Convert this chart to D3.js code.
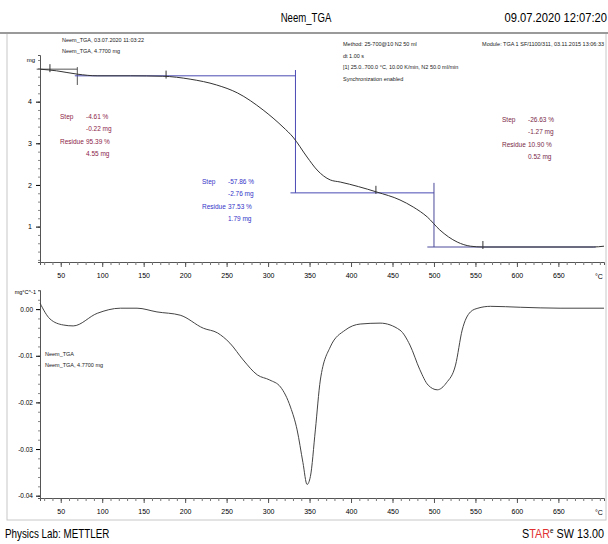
<!DOCTYPE html>
<html>
<head>
<meta charset="utf-8">
<script src="https://cdn.jsdelivr.net/npm/d3@7"></script>
<style>
  body { margin: 0; background: #fff; }
  svg { font-family: "Liberation Sans Narrow", "Arial Narrow", "Liberation Sans", Arial, sans-serif; }
</style>
</head>
<body>
<svg id="chart" width="608" height="544"></svg>
<script>
// temperature axis (°C)
const tempTicks = [50, 100, 150, 200, 250, 300, 350, 400, 450, 500, 550, 600, 650];
const tgaTicks = [1, 2, 3, 4];
const dtgTicks = [0, -0.01, -0.02, -0.03, -0.04];
const dtgTickLabels = ["0.00", "-0.01", "-0.02", "-0.03", "-0.04"];

// TGA curve: mass (mg) vs temperature
const tgaTemp = [25, 45, 70, 94, 134, 173, 206, 238, 263, 294, 318, 330, 347, 359, 375, 387, 431, 459, 475, 492, 507, 528, 544, 559, 692, 705];
const tgaMass = [4.78, 4.74, 4.66, 4.62, 4.62, 4.61, 4.54, 4.40, 4.21, 3.80, 3.39, 3.15, 2.67, 2.36, 2.12, 2.07, 1.83, 1.64, 1.47, 1.23, 0.92, 0.63, 0.53, 0.51, 0.51, 0.53];

// DTG curve: mg/°C vs temperature
const dtgTemp = [25, 37, 53, 65, 94, 122, 142, 166, 194, 222, 239, 254, 270, 287, 302, 315, 327, 335, 342, 347, 351, 357, 363, 375, 393, 411, 435, 459, 471, 483, 493, 504, 515, 526, 534, 544, 553, 568, 604, 652, 705];
const dtgRate = [0.0013, -0.0021, -0.0034, -0.0036, -0.0009, 0.0002, 0.0002, -0.0006, -0.0013, -0.0041, -0.0051, -0.0073, -0.0109, -0.0141, -0.0152, -0.0167, -0.0210, -0.0259, -0.0329, -0.0376, -0.0359, -0.0259, -0.0152, -0.0081, -0.0045, -0.0032, -0.0030, -0.0045, -0.0077, -0.0130, -0.0163, -0.0173, -0.0158, -0.0120, -0.0045, -0.0006, 0.0002, 0.0006, 0.0004, 0.0002, 0.0002];

// step evaluation construction lines [T1, m1, T2, m2]
const step1Lines = [[21, 4.78, 70, 4.78], [70, 4.83, 70, 4.40]];
const step2Lines = [[67, 4.62, 333, 4.62], [333, 4.76, 333, 1.81], [327, 1.81, 500, 1.81]];
const step3Lines = [[500, 2.05, 500, 0.51], [492, 0.51, 695, 0.51]];
const stepLimits = [37, 177, 430, 559];

const step1Text = [["Step", "-4.61 %"], ["", "-0.22 mg"], ["Residue", "95.39 %"], ["", "4.55 mg"]];
const step2Text = [["Step", "-57.86 %"], ["", "-2.76 mg"], ["Residue", "37.53 %"], ["", "1.79 mg"]];
const step3Text = [["Step", "-26.63 %"], ["", "-1.27 mg"], ["Residue", "10.90 %"], ["", "0.52 mg"]];

const infoLeft = ["Neem_TGA, 03.07.2020 11:03:22", "Neem_TGA, 4.7700 mg"];
const infoMethod = ["Method: 25-700@10 N2 50 ml", "dt 1.00 s", "[1] 25.0..700.0 °C, 10.00 K/min, N2 50.0 ml/min", "Synchronization enabled"];
const infoModule = "Module: TGA 1 SF/1100/311, 03.11.2015 13:06:33";
const dtgLegend = ["Neem_TGA", "Neem_TGA, 4.7700 mg"];

const svg = d3.select("#chart");

const x = d3.scaleLinear().domain([25, 705]).range([40, 604]);
const yTop = d3.scaleLinear().domain([0.15, 5.12]).range([262, 55]);
const yBot = d3.scaleLinear().domain([-0.0405, 0.0041]).range([498, 290]);

// narrow text helper (condensed look of the original printout)
function narrowText(px, py, sx, size, anchor, str) {
    return svg.append("text")
        .attr("transform", `translate(${px},${py}) scale(${sx},1)`)
        .attr("text-anchor", anchor).attr("font-size", size).text(str);
}

// frame
svg.append("rect").attr("x", 7).attr("y", 33).attr("width", 599).attr("height", 487)
    .attr("fill", "none").attr("stroke", "#c8c8c8").attr("stroke-width", 1);
svg.append("line").attr("x1", 0).attr("x2", 608).attr("y1", 33).attr("y2", 33)
    .attr("stroke", "#9a9a9a").attr("stroke-width", 2);

// header
narrowText(306, 22, 0.8, 12, "middle", "Neem_TGA");
narrowText(607, 22, 0.86, 13, "end", "09.07.2020 12:07:20");

function xAxis(g, yPos) {
    g.append("g").attr("transform", `translate(0,${yPos})`)
        .call(d3.axisBottom(x).tickValues(d3.range(30, 701, 10)).tickSize(3).tickFormat(""))
        .call(a => a.select(".domain").attr("stroke", "#555"))
        .call(a => a.selectAll("line").attr("stroke", "#777"));
    g.append("g").attr("transform", `translate(0,${yPos})`)
        .call(d3.axisBottom(x).tickValues(tempTicks).tickSize(5).tickPadding(6))
        .call(a => a.select(".domain").remove())
        .call(a => a.selectAll("line").attr("stroke", "#555"))
        .call(a => a.selectAll("text").attr("font-size", 7).attr("font-family", null));
    g.append("text").attr("x", x(705) - 5).attr("y", yPos + 17).attr("text-anchor", "middle")
        .attr("font-size", 7).text("°C");
}

// ---- top panel (TGA)
const topPanel = svg.append("g");
topPanel.append("g").attr("transform", "translate(40,0)")
    .call(d3.axisLeft(yTop).tickValues(d3.range(0.2, 5.01, 0.2)).tickSize(2).tickFormat(""))
    .call(a => a.select(".domain").attr("stroke", "#555"))
    .call(a => a.selectAll("line").attr("stroke", "#888"));
topPanel.append("g").attr("transform", "translate(40,0)")
    .call(d3.axisLeft(yTop).tickValues(tgaTicks).tickSize(4).tickPadding(4).tickFormat(d3.format("d")))
    .call(a => a.select(".domain").remove())
    .call(a => a.selectAll("text").attr("font-size", 7).attr("font-family", null));
topPanel.append("text").attr("x", 35).attr("y", yTop(5) + 2).attr("text-anchor", "end")
    .attr("font-size", 6).text("mg");
xAxis(topPanel, 262);

const lineStep = (g, lines, color) => g.selectAll(null).data(lines).join("line")
    .attr("x1", d => x(d[0])).attr("y1", d => yTop(d[1]))
    .attr("x2", d => x(d[2])).attr("y2", d => yTop(d[3]))
    .attr("stroke", color).attr("stroke-width", 1);
lineStep(topPanel, step1Lines, "#555");
lineStep(topPanel, step2Lines, "#4a4ab4");
lineStep(topPanel, step3Lines, "#4a4a9c");

const tgaLine = d3.line().x(d => x(d[0])).y(d => yTop(d[1])).curve(d3.curveMonotoneX);
topPanel.append("path").datum(d3.zip(tgaTemp, tgaMass)).attr("d", tgaLine)
    .attr("fill", "none").attr("stroke", "#333").attr("stroke-width", 1);

const massAt = d3.scaleLinear().domain(tgaTemp).range(tgaMass);
topPanel.selectAll(null).data(stepLimits).join("line")
    .attr("x1", d => x(d)).attr("x2", d => x(d))
    .attr("y1", d => yTop(massAt(d)) - 6).attr("y2", d => yTop(massAt(d)) + 2)
    .attr("stroke", "#333").attr("stroke-width", 1);

function stepBlock(rows, px, py, color) {
    const g = topPanel.append("g").attr("fill", color).attr("font-size", 6.5);
    rows.forEach((r, i) => {
        g.append("text").attr("x", px).attr("y", py + i * 12.3).text(r[0]);
        g.append("text").attr("x", px + 26).attr("y", py + i * 12.3).text(r[1]);
    });
}
stepBlock(step1Text, 60, 119, "#8c2448");
stepBlock(step2Text, 202, 184, "#3434c8");
stepBlock(step3Text, 502, 122, "#7a2a48");

const info = svg.append("g").attr("font-size", 5.5).attr("fill", "#222");
infoLeft.forEach((t, i) => info.append("text").attr("x", 62).attr("y", 42 + i * 11).text(t));
infoMethod.forEach((t, i) => info.append("text").attr("x", 343).attr("y", 46 + i * 11.5).text(t));
info.append("text").attr("x", 604).attr("y", 46).attr("text-anchor", "end").text(infoModule);

// ---- bottom panel (DTG)
const botPanel = svg.append("g");
botPanel.append("g").attr("transform", "translate(40,0)")
    .call(d3.axisLeft(yBot).tickValues(d3.range(-0.04, 0.0041, 0.002)).tickSize(2).tickFormat(""))
    .call(a => a.select(".domain").attr("stroke", "#555"))
    .call(a => a.selectAll("line").attr("stroke", "#888"));
botPanel.append("g").attr("transform", "translate(40,0)")
    .call(d3.axisLeft(yBot).tickValues(dtgTicks).tickSize(4).tickPadding(3)
        .tickFormat((d, i) => dtgTickLabels[i]))
    .call(a => a.select(".domain").remove())
    .call(a => a.selectAll("text").attr("font-size", 6.5).attr("font-family", null));
botPanel.append("text").attr("x", 36).attr("y", 294).attr("text-anchor", "end")
    .attr("font-size", 5.5).text("mg°C^-1");
xAxis(botPanel, 498);

const dtgLine = d3.line().x(d => x(d[0])).y(d => yBot(d[1])).curve(d3.curveMonotoneX);
botPanel.append("path").datum(d3.zip(dtgTemp, dtgRate)).attr("d", dtgLine)
    .attr("fill", "none").attr("stroke", "#444").attr("stroke-width", 1);

dtgLegend.forEach((t, i) => botPanel.append("text").attr("x", 45).attr("y", 356 + i * 11)
    .attr("font-size", 5.5).attr("fill", "#222").text(t));

// footer
narrowText(5, 538, 0.82, 12, "start", "Physics Lab: METTLER");
const star = narrowText(604, 538, 0.9, 12, "end", "");
star.append("tspan").text("S");
star.append("tspan").attr("fill", "#e03030").text("TAR");
star.append("tspan").attr("font-size", 7).attr("dy", -5).text("e");
star.append("tspan").attr("dy", 5).text(" SW 13.00");
</script>
</body>
</html>
